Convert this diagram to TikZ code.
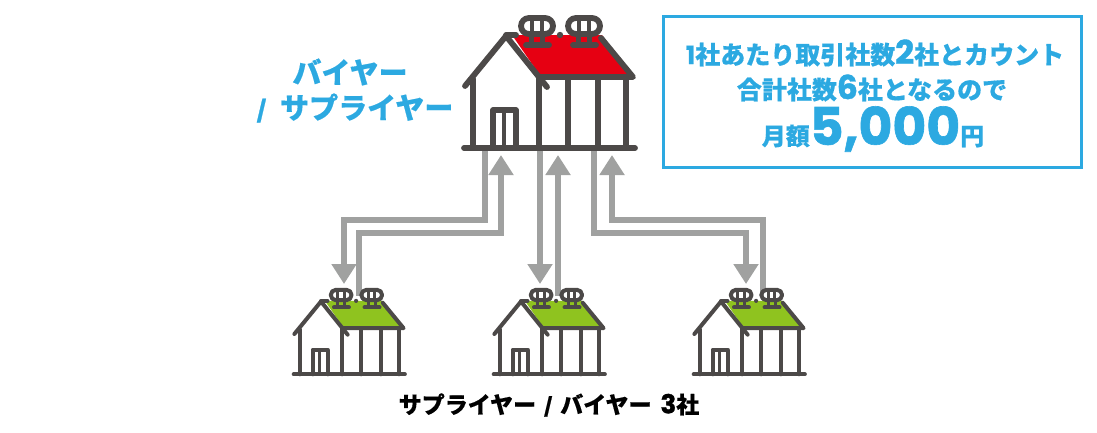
\documentclass[tikz,border=0pt]{standalone}
\usepackage{fontspec}
\usetikzlibrary{arrows.meta}
\newfontfamily\jpfont{Noto Sans CJK JP}[BoldFeatures={FakeBold=0.4}]
\newfontfamily\numfont{Poppins}[BoldFeatures={FakeBold=1.2}]
\definecolor{dk}{HTML}{4C4948}
\definecolor{rd}{HTML}{E60012}
\definecolor{gn}{HTML}{8FC31F}
\definecolor{bl}{HTML}{2CA9E1}
\definecolor{gy}{HTML}{A0A1A0}
\newcommand{\jb}[1]{{\jpfont\bfseries #1}}
\newcommand{\nb}[2]{{\fontsize{#1}{#1}\selectfont\numfont\bfseries #2}}
\newcommand{\oneVent}[1]{%
  \draw[hs,fill=white] (#1-8,-18) -- (#1+8,-18) arc (90:-90:8 and -8) -- (#1-8,-2) arc (270:90:8 and -8) -- cycle;
  \draw[hsi] (#1-5,-18) -- (#1-5,-2) (#1+5,-18) -- (#1+5,-2);
  \fill[dk] (#1-8,-1) rectangle (#1-3,9);
  \fill[dk] (#1+3,-1) rectangle (#1+8,9);
  \draw[hs] (#1-11,9) -- (#1+12,9);
}
% #1 x, #2 y of roof peak, #3 scale, #4 roof colour, #5 line width
\newcommand{\drawHouse}[5]{%
  \pgfmathsetmacro{\lwi}{0.75*#5}%
  \begin{scope}[shift={(#1,#2)},scale=#3,
      hs/.style={draw=dk,line width=#5pt,line cap=round,line join=round},
      hsi/.style={draw=dk,line width=\lwi pt}]
    \fill[#4] (6,-1) -- (96,-1) -- (124,38) -- (33,38) -- cycle;
    \oneVent{31}
    \oneVent{78}
    \draw[hs] (-41,50) -- (0,0) -- (41,51);
    \draw[hs] (0,-1) -- (10,-1);
    \draw[hs] (95,2) -- (127,41) -- (33,41);
    \fill[dk] (54,-1) circle (3.2);
    \draw[hs] (-33,43) -- (-33,112);
    \draw[hs] (33,41) -- (33,112);
    \draw[hs] (62,41) -- (62,112);
    \draw[hs] (92,41) -- (92,112);
    \draw[hs] (120,41) -- (120,112);
    \draw[hs,miter limit=4] (-13,112) -- (-13,74) -- (10,74) -- (10,112);
    \draw[hsi] (-2,74) -- (-2,112);
    \draw[hs] (-42,112) -- (129,112);
  \end{scope}%
}
\tikzset{
  conn/.style={draw=gy,line width=5.5pt,line join=miter,-{Triangle[width=24pt,length=20pt]}},
  lbl/.style={inner sep=0pt,align=center}
}
\begin{document}
\begin{tikzpicture}[x=1pt,y=-1pt]
\useasboundingbox (0,0) rectangle (1097,432);
% ports
\coordinate (topA) at (485,150);
\coordinate (topB) at (501,155);
\coordinate (topC) at (540,150);
\coordinate (topD) at (558,155);
\coordinate (topE) at (594,150);
\coordinate (topF) at (612,155);
\coordinate (lowA) at (344,284);
\coordinate (lowB) at (359,296);
\coordinate (lowC) at (540,284);
\coordinate (lowD) at (558,296);
\coordinate (lowE) at (746,284);
\coordinate (lowF) at (763,296);
\draw[conn] (topA) |- (344,220) -- (lowA);
\draw[conn] (lowB) |- (501,233) -- (topB);
\draw[conn] (topC) -- (lowC);
\draw[conn] (lowD) -- (topD);
\draw[conn] (topE) |- (746,233) -- (lowE);
\draw[conn] (lowF) |- (612,220) -- (topF);
\drawHouse{506}{36}{1}{rd}{5.8}
\drawHouse{321}{301.5}{0.65}{gn}{4}
\drawHouse{521}{301.5}{0.65}{gn}{4}
\drawHouse{721}{301.5}{0.65}{gn}{4}
\node[draw=bl,line width=3pt,minimum width=418pt,minimum height=151pt,inner sep=0pt,anchor=north west] (box) at (662,15) {};
\node[lbl,text=bl] (t1) at (875,53) {\fontsize{25}{25}\selectfont\nb{25}{1}\jb{社あたり取引社数}\nb{33}{2}\jb{社とカウント}};
\node[lbl,text=bl] (t2) at (872,88) {\fontsize{25}{25}\selectfont\jb{合計社数}\nb{33}{6}\jb{社となるので}};
\node[lbl,text=bl] (t3) at (873,129) {\fontsize{24}{24}\selectfont\jb{月額}\nb{52}{5,000}\jb{円}};
\node[lbl,text=bl] (b1) at (350,72) {\fontsize{29}{29}\selectfont\jb{バイヤー}};
\node[lbl,text=bl] (b2) at (355,108) {\fontsize{29}{29}\selectfont\nb{21}{/}\hspace{14pt}\jb{サプライヤー}};
\node[lbl,text=black] (b3) at (549,405) {\fontsize{23}{23}\selectfont\jb{サプライヤー}\hspace{8pt}\nb{18}{/}\hspace{8pt}\jb{バイヤー}\hspace{9pt}\nb{26}{3}\jb{社}};
\end{tikzpicture}
\end{document}
